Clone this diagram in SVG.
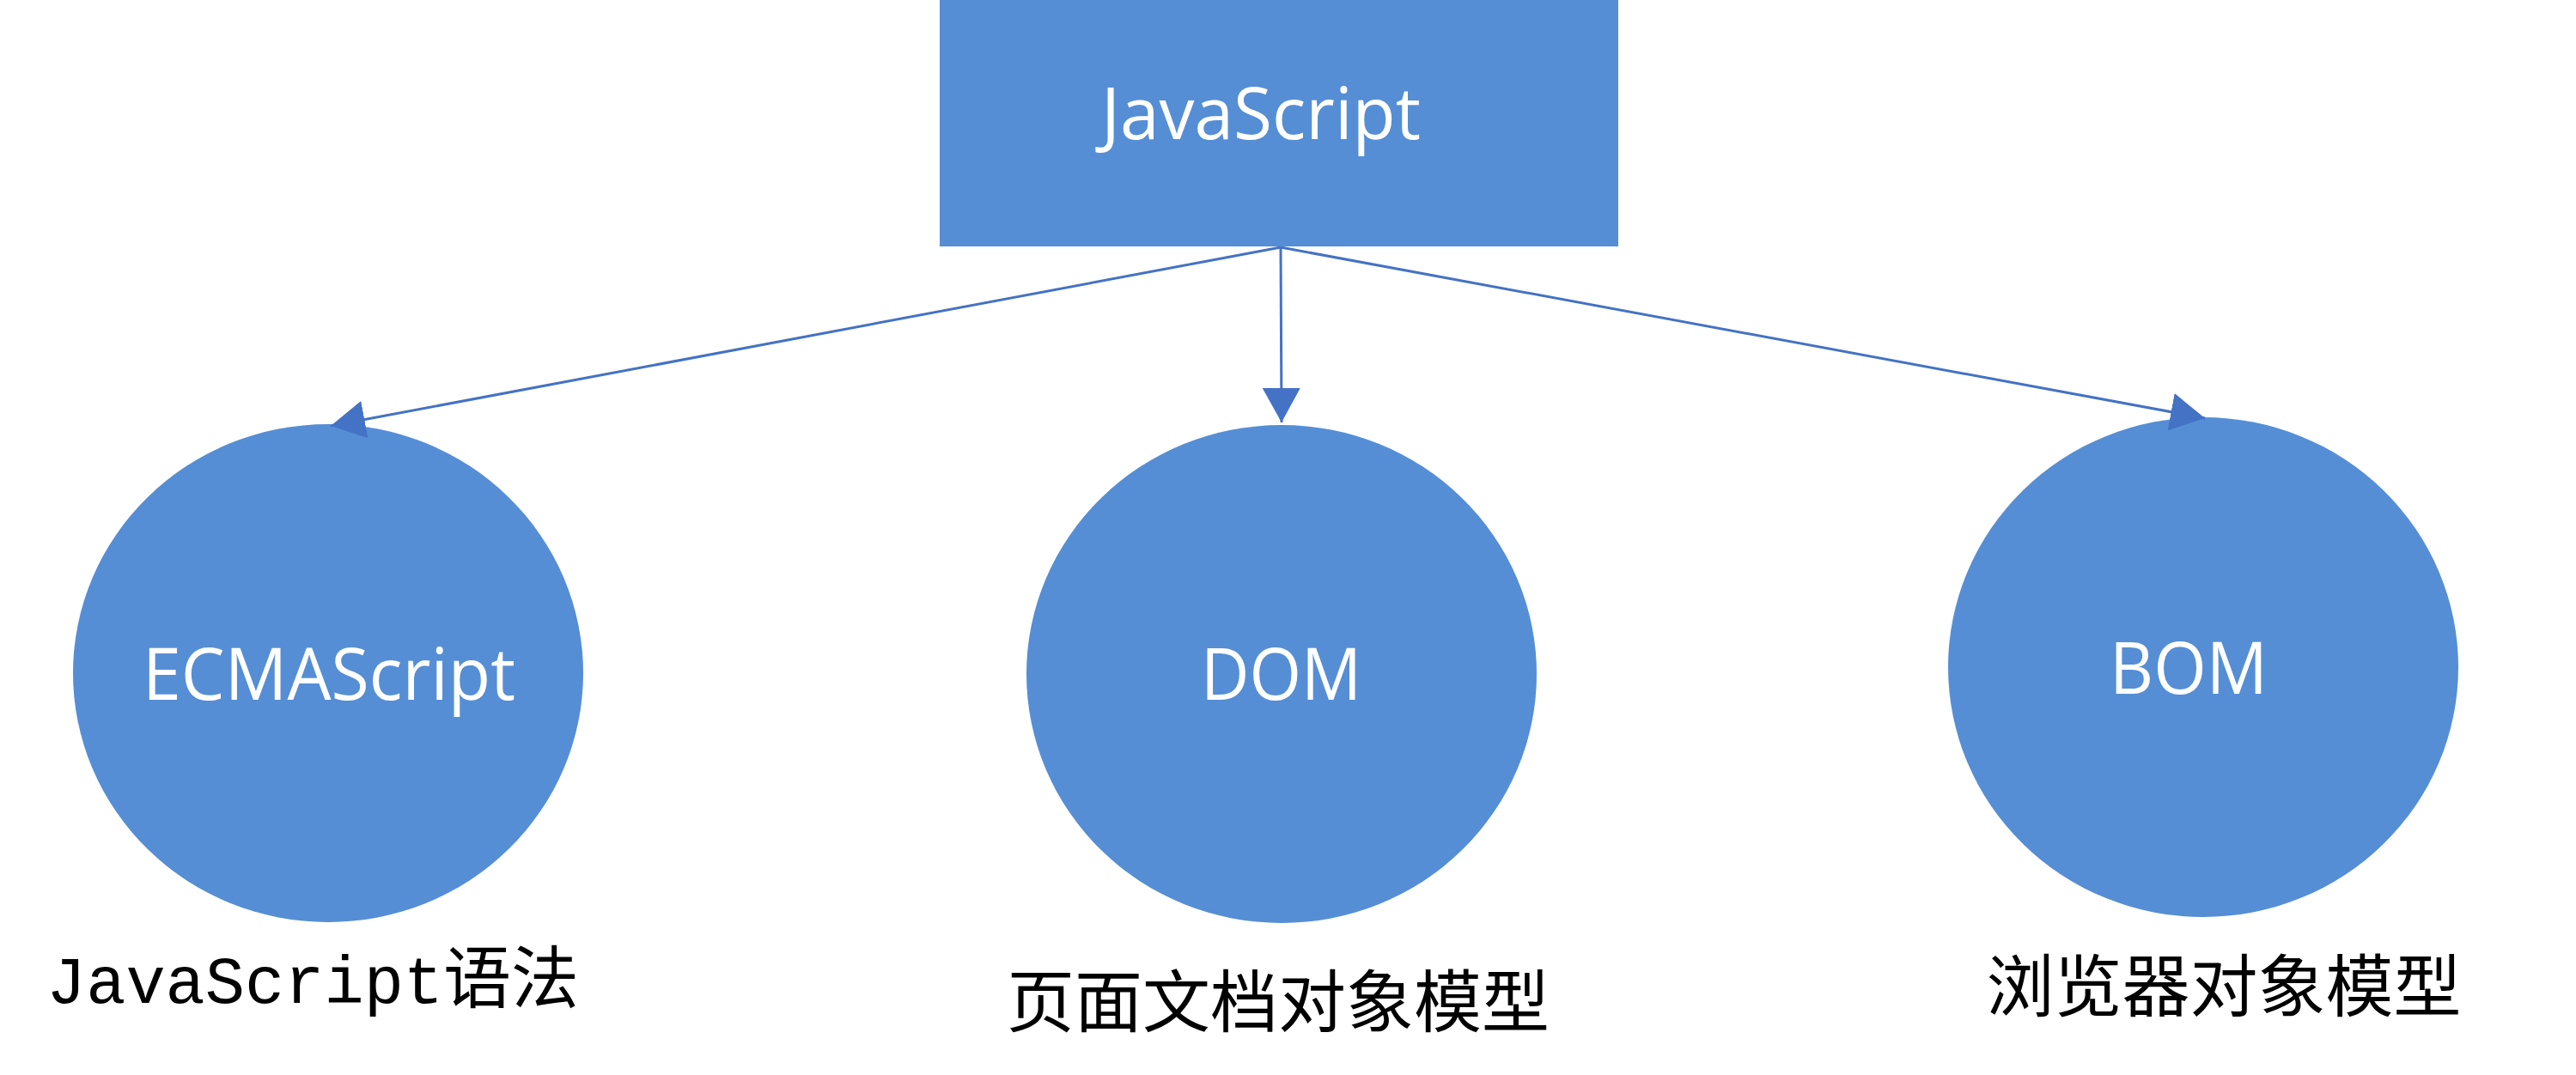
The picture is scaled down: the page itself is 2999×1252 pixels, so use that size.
<svg xmlns="http://www.w3.org/2000/svg" width="2999" height="1252" viewBox="0 0 2999 1252">
<style>
.shape{fill:#558ed5}
.inlabel{font-family:"Open Sans","Noto Sans",sans-serif;font-size:84px;fill:#ffffff}
.cjk{font-family:"Noto Sans CJK SC",sans-serif;font-size:79px;fill:#000000}
.mono{font-family:"Liberation Mono",monospace;font-size:77px;fill:#000000}
.conn{stroke:#4472c4;stroke-width:3;fill:none;marker-end:url(#arrow)}
</style>
<defs>
<marker id="arrow" markerUnits="userSpaceOnUse" viewBox="0 0 40 44" refX="40" refY="22" markerWidth="40" markerHeight="44" orient="auto">
<path d="M0,0 L40,22 L0,44 Z" fill="#4472c4"/>
</marker>
</defs>
<rect width="2999" height="1252" fill="#ffffff"/>
<g id="node-javascript">
<rect class="shape" x="1094" y="0" width="790" height="287"/>
<text class="inlabel" x="1282" y="162" textLength="372" lengthAdjust="spacingAndGlyphs">JavaScript</text>
</g>
<g id="node-ecmascript">
<ellipse class="shape" cx="382" cy="784" rx="297" ry="290"/>
<text class="inlabel" x="166" y="815" textLength="434" lengthAdjust="spacingAndGlyphs">ECMAScript</text>
<text x="54" y="1168"><tspan class="mono">JavaScript</tspan><tspan class="cjk" font-size="80">语法</tspan></text>
</g>
<g id="node-dom">
<ellipse class="shape" cx="1492" cy="785" rx="297" ry="290"/>
<text class="inlabel" x="1398" y="815" textLength="187" lengthAdjust="spacingAndGlyphs">DOM</text>
<text class="cjk" x="1488" y="1196" text-anchor="middle">页面文档对象模型</text>
</g>
<g id="node-bom">
<ellipse class="shape" cx="2565" cy="777" rx="297" ry="291"/>
<text class="inlabel" x="2456" y="808" textLength="184" lengthAdjust="spacingAndGlyphs">BOM</text>
<text class="cjk" x="2589" y="1178" text-anchor="middle">浏览器对象模型</text>
</g>
<g id="connectors">
<line class="conn" x1="1491" y1="288" x2="385" y2="496"/>
<line class="conn" x1="1491" y1="288" x2="1492" y2="492"/>
<line class="conn" x1="1491" y1="288" x2="2567" y2="487"/>
</g>
</svg>
